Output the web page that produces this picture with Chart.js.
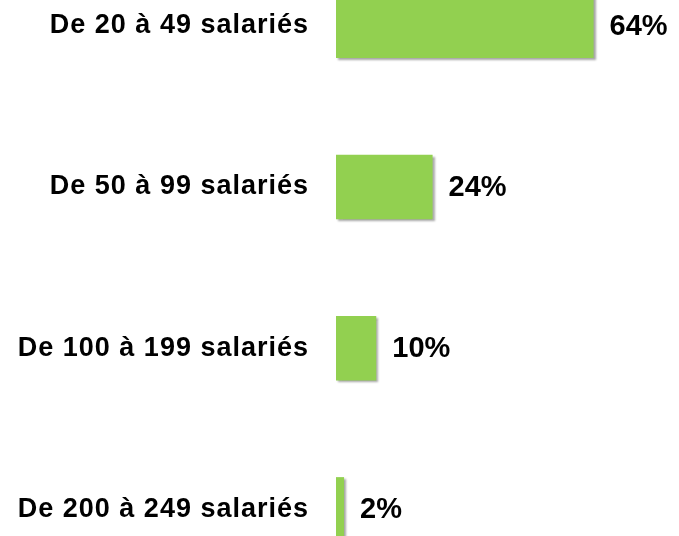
<!DOCTYPE html>
<html>
<head>
<meta charset="utf-8">
<script src="https://cdn.jsdelivr.net/npm/chart.js@4"></script>
<style>
  html, body { margin: 0; padding: 0; background: #fff; overflow: hidden; }
  #sizeCanvas { position: absolute; left: 0; top: -55px; }
</style>
</head>
<body>
<canvas id="sizeCanvas" width="679" height="645"></canvas>
<script>
const categories = ['De 20 à 49 salariés', 'De 50 à 99 salariés', 'De 100 à 199 salariés', 'De 200 à 249 salariés'];
const shares = [64, 24, 10, 2];
const valueLabels = ['64%', '24%', '10%', '2%'];

const fontFamily = "'Liberation Sans', Arial, sans-serif";

// texte un peu plus large, comme dans l'original
const wideText = {
  id: 'wideText',
  beforeDraw(chart) {
    chart.ctx.letterSpacing = '1px';
  }
};

// ombre grise sous les barres
const barShadow = {
  id: 'barShadow',
  beforeDatasetDraw(chart) {
    const ctx = chart.ctx;
    ctx.save();
    ctx.shadowColor = 'rgba(0,0,0,0.35)';
    ctx.shadowOffsetX = 2;
    ctx.shadowOffsetY = 2;
    ctx.shadowBlur = 2;
  },
  afterDatasetDraw(chart) {
    chart.ctx.restore();
  }
};

// étiquettes de valeur à droite des barres
const valueText = {
  id: 'valueText',
  afterDatasetsDraw(chart) {
    const ctx = chart.ctx;
    const meta = chart.getDatasetMeta(0);
    ctx.save();
    ctx.letterSpacing = '0px';
    ctx.font = 'bold 29px ' + fontFamily;
    ctx.fillStyle = '#000';
    ctx.textAlign = 'left';
    ctx.textBaseline = 'middle';
    meta.data.forEach((bar, i) => {
      ctx.fillText(valueLabels[i], bar.x + 16, bar.y + 1);
    });
    ctx.restore();
  }
};

const ctx = document.getElementById('sizeCanvas').getContext('2d');
new Chart(ctx, {
  type: 'bar',
  data: {
    labels: categories,
    datasets: [{
      data: shares,
      backgroundColor: '#92D050',
      borderWidth: 0,
      categoryPercentage: 1,
      barPercentage: 0.4
    }]
  },
  options: {
    indexAxis: 'y',
    responsive: false,
    animation: false,
    layout: { padding: { top: 0, bottom: 0, left: 0, right: 21 } },
    plugins: {
      legend: { display: false },
      tooltip: { enabled: false }
    },
    scales: {
      x: {
        display: false,
        min: 0,
        max: 80
      },
      y: {
        grid: { display: false, drawTicks: false },
        border: { display: false },
        ticks: {
          color: '#000',
          padding: 27,
          font: { family: fontFamily, size: 27, weight: 'bold' }
        },
        afterFit(scale) {
          scale.width = 336;
          scale.paddingTop = 0;
          scale.paddingBottom = 0;
        }
      }
    }
  },
  plugins: [wideText, barShadow, valueText]
});
</script>
</body>
</html>
